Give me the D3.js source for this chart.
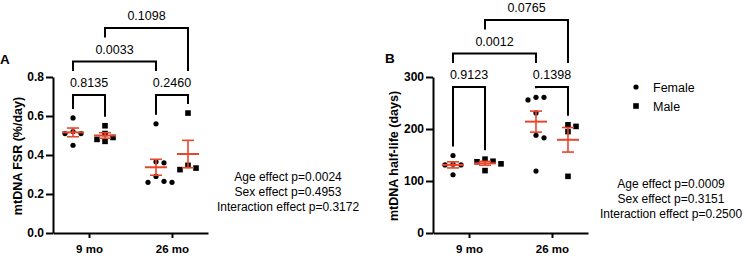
<!DOCTYPE html>
<html>
<head>
<meta charset="utf-8">
<script src="https://cdn.jsdelivr.net/npm/d3@7"></script>
<style>
body { margin: 0; background: #fff; }
svg text { font-family: "Liberation Sans", Arial, sans-serif; }
</style>
</head>
<body>
<svg id="chart" width="746" height="258"></svg>
<script>
// groups
const ages = ["9 mo", "26 mo"];
const sexes = ["Female", "Male"];

// panel A - mtDNA FSR (%/day)
const fsrFemale9 = [0.59, 0.52, 0.51, 0.51, 0.45];
const fsrMale9 = [0.55, 0.51, 0.49, 0.48, 0.47];
const fsrFemale26 = [0.56, 0.365, 0.36, 0.29, 0.265, 0.26, 0.26];
const fsrMale26 = [0.615, 0.347, 0.333, 0.325];
const fsrTicks = [0, 0.2, 0.4, 0.6, 0.8];
const fsrPairs = [["9 mo|Female", "9 mo|Male"], ["26 mo|Female", "26 mo|Male"], ["9 mo|Female", "26 mo|Female"], ["9 mo|Male", "26 mo|Male"]];
const fsrP = ["0.8135", "0.2460", "0.0033", "0.1098"];
const fsrEffects = ["Age effect p=0.0024", "Sex effect p=0.4953", "Interaction effect p=0.3172"];

// panel B - mtDNA half-life (days)
const halfFemale9 = [149, 132, 131, 131, 112];
const halfMale9 = [142, 138, 137, 133, 120];
const halfFemale26 = [261, 261, 256, 231, 188, 183, 119];
const halfMale26 = [208, 205, 195, 109];
const halfTicks = [0, 100, 200, 300];
const halfPairs = fsrPairs;
const halfP = ["0.9123", "0.1398", "0.0012", "0.0765"];
const halfEffects = ["Age effect p=0.0009", "Sex effect p=0.3151", "Interaction effect p=0.2500"];

const red = "#e9452b";
const svg = d3.select("#chart");

function drawPanel(cfg) {
    const g = svg.append("g").attr("transform", "translate(" + cfg.dx + ",0)");

    const y = d3.scaleLinear().domain(cfg.domain).range([233, 77]);
    const x = d3.scalePoint().domain(ages).range([53, 208]).padding(0.434);
    const sexOff = d3.scalePoint().domain(sexes).range([-16, 16]);

    const groups = [
        {age: "9 mo", sex: "Female", v: cfg.values[0]},
        {age: "9 mo", sex: "Male", v: cfg.values[1]},
        {age: "26 mo", sex: "Female", v: cfg.values[2]},
        {age: "26 mo", sex: "Male", v: cfg.values[3]}
    ];
    groups.forEach(function (d) {
        d.key = d.age + "|" + d.sex;
        d.cx = x(d.age) + sexOff(d.sex);
        d.mean = d3.mean(d.v);
        d.sem = d3.deviation(d.v) / Math.sqrt(d.v.length);
        d.top = y(d3.max(d.v));
    });
    const byKey = {};
    groups.forEach(function (d) { byKey[d.key] = d; });

    // y axis
    const ya = g.append("g")
        .attr("transform", "translate(53,0)")
        .call(d3.axisLeft(y).tickValues(cfg.ticks).tickSize(7).tickSizeOuter(0).tickPadding(2).tickFormat(cfg.fmt));
    // x axis
    const xa = g.append("g")
        .attr("transform", "translate(0,233)")
        .call(d3.axisBottom(x).tickSize(5).tickSizeOuter(0).tickPadding(7));
    [ya, xa].forEach(function (a) {
        a.selectAll("path, line").attr("stroke", "#000").attr("stroke-width", 2);
        a.selectAll("text").attr("fill", "#000").style("font-weight", "bold").style("font-size", "12px");
    });
    xa.selectAll("text").style("font-size", "11.5px");

    // axis title
    g.append("text")
        .attr("transform", "translate(" + cfg.titleX + ",156) rotate(-90)")
        .attr("text-anchor", "middle")
        .style("font-weight", "bold")
        .style("font-size", "12.5px")
        .text(cfg.title);

    // panel letter
    g.append("text")
        .attr("x", cfg.letterX).attr("y", cfg.letterY)
        .style("font-weight", "bold").style("font-size", "13.5px")
        .text(cfg.letter);

    // points, spread like a beeswarm
    groups.forEach(function (grp) {
        const placed = [];
        const pts = grp.v.slice().sort(d3.descending).map(function (v) {
            const py = y(v);
            let off = 0;
            for (let k = 0; k < 20; k++) {
                const cand = k === 0 ? 0 : (k % 2 ? 1 : -1) * Math.ceil(k / 2) * 8;
                const hit = placed.some(function (p) { return Math.hypot(p.x - cand, p.y - py) < 6.5; });
                if (!hit) { off = cand; break; }
            }
            const p = {x: off, y: py};
            placed.push(p);
            return p;
        });
        if (grp.sex === "Female") {
            g.selectAll(null).data(pts).enter().append("circle")
                .attr("cx", function (p) { return grp.cx + p.x; })
                .attr("cy", function (p) { return p.y; })
                .attr("r", 2.6)
                .attr("fill", "#000");
        } else {
            g.selectAll(null).data(pts).enter().append("rect")
                .attr("x", function (p) { return grp.cx + p.x - 2.8; })
                .attr("y", function (p) { return p.y - 2.8; })
                .attr("width", 5.6).attr("height", 5.6)
                .attr("fill", "#000");
        }
    });

    // mean +/- SEM
    groups.forEach(function (grp) {
        const e = g.append("g").attr("stroke", red);
        e.append("line").attr("x1", grp.cx).attr("x2", grp.cx)
            .attr("y1", y(grp.mean + grp.sem)).attr("y2", y(grp.mean - grp.sem)).attr("stroke-width", 1.6);
        [grp.mean + grp.sem, grp.mean - grp.sem].forEach(function (v) {
            e.append("line").attr("x1", grp.cx - 6).attr("x2", grp.cx + 6)
                .attr("y1", y(v)).attr("y2", y(v)).attr("stroke-width", 1.6);
        });
        e.append("line").attr("x1", grp.cx - 11).attr("x2", grp.cx + 11)
            .attr("y1", y(grp.mean)).attr("y2", y(grp.mean)).attr("stroke-width", 2);
    });

    // comparison brackets: assign levels greedily by span
    const br = cfg.pairs.map(function (p, i) {
        const a = byKey[p[0]], b = byKey[p[1]];
        return {a: a, b: b, p: cfg.p[i], x1: Math.min(a.cx, b.cx), x2: Math.max(a.cx, b.cx)};
    });
    const order = br.slice().sort(function (m, n) { return (m.x2 - m.x1) - (n.x2 - n.x1); });
    const placedBr = [];
    order.forEach(function (b) {
        let lvl = 0;
        while (placedBr.some(function (o) { return o.level === lvl && o.x1 <= b.x2 && b.x1 <= o.x2; })) lvl++;
        b.level = lvl;
        b.yTop = cfg.bracketBase - lvl * 33.5;
        placedBr.push(b);
    });
    function legEnd(b, grp) {
        const below = placedBr.filter(function (o) {
            return o.level < b.level && o.x1 <= grp.cx && grp.cx <= o.x2;
        });
        if (below.length) return d3.min(below, function (o) { return o.yTop; }) - 24;
        return grp.top - 9;
    }
    placedBr.forEach(function (b) {
        const la = b.a.cx < b.b.cx ? b.a : b.b, lb = la === b.a ? b.b : b.a;
        g.append("path")
            .attr("d", "M" + la.cx + "," + legEnd(b, la) + "V" + b.yTop + "H" + lb.cx + "V" + legEnd(b, lb))
            .attr("fill", "none").attr("stroke", "#000").attr("stroke-width", 2);
        g.append("text")
            .attr("x", (b.x1 + b.x2) / 2).attr("y", b.yTop - 8)
            .attr("text-anchor", "middle")
            .style("font-size", "12.5px")
            .text(b.p);
    });

    // effect statistics
    g.selectAll(null).data(cfg.effects).enter().append("text")
        .attr("x", cfg.effX)
        .attr("y", function (d, i) { return cfg.effY + i * 15; })
        .attr("text-anchor", "middle")
        .style("font-size", "12px")
        .text(function (d) { return d; });
}

drawPanel({
    dx: 0, domain: [0, 0.8], ticks: fsrTicks, fmt: d3.format(".1f"),
    values: [fsrFemale9, fsrMale9, fsrFemale26, fsrMale26],
    pairs: fsrPairs, p: fsrP, effects: fsrEffects,
    title: "mtDNA FSR (%/day)", titleX: 22, letter: "A", letterX: 0, letterY: 64,
    bracketBase: 95, effX: 288, effY: 181
});

drawPanel({
    dx: 380, domain: [0, 300], ticks: halfTicks, fmt: d3.format("d"),
    values: [halfFemale9, halfMale9, halfFemale26, halfMale26],
    pairs: halfPairs, p: halfP, effects: halfEffects,
    title: "mtDNA half-life (days)", titleX: 18, letter: "B", letterX: 5, letterY: 63,
    bracketBase: 87, effX: 291, effY: 188
});

// legend
const legend = svg.append("g").attr("transform", "translate(636,0)");
const legendY = d3.scalePoint().domain(sexes).range([87, 106]);
sexes.forEach(function (s) {
    if (s === "Female") {
        legend.append("circle").attr("cx", 0).attr("cy", legendY(s)).attr("r", 2.6).attr("fill", "#000");
    } else {
        legend.append("rect").attr("x", -2.8).attr("y", legendY(s) - 2.8).attr("width", 5.6).attr("height", 5.6).attr("fill", "#000");
    }
    legend.append("text").attr("x", 17).attr("y", legendY(s) + 4.5)
        .style("font-size", "12.5px").text(s);
});
</script>
</body>
</html>
